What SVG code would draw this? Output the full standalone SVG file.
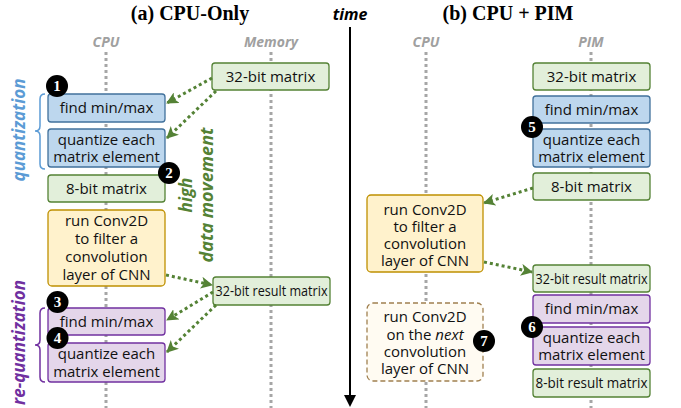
<svg xmlns="http://www.w3.org/2000/svg" width="681" height="408" viewBox="0 0 681 408">
<defs>
<style>
.title{font-family:"Liberation Serif",serif;font-weight:bold;font-size:20px;fill:#000}
.col{font-family:"Open Sans","Liberation Sans",sans-serif;font-weight:bold;font-style:italic;font-size:14px;fill:#a0a0a0}
.lane{stroke:#a6a6a6;stroke-width:3;stroke-dasharray:3 3;fill:none}
.bx{font-family:"Open Sans","Liberation Sans",sans-serif;font-size:15px;fill:#111;text-anchor:middle}
.blue{fill:#bdd7ee;stroke:#41719c;stroke-width:1.3}
.green{fill:#e2efda;stroke:#548235;stroke-width:1.3}
.yellow{fill:#fff2cc;stroke:#bf9000;stroke-width:1.3}
.purple{fill:#e4d6ea;stroke:#7030a0;stroke-width:1.3}
.dash{fill:#fffbf2;stroke:#a08050;stroke-width:1.3;stroke-dasharray:5 3}
.conn{stroke:#548235;stroke-width:3;stroke-dasharray:3 3;fill:none}
.badge circle{fill:#000}
.badge text{font-family:"Liberation Serif",serif;font-weight:bold;font-size:15px;fill:#fff;text-anchor:middle}
.lbl{font-family:"Open Sans","Liberation Sans",sans-serif;font-weight:bold;font-style:italic;font-size:17px;text-anchor:middle}
</style>
<marker id="ah" markerUnits="userSpaceOnUse" markerWidth="12" markerHeight="12" refX="11" refY="6" orient="auto">
<path d="M0,0 L12,6 L0,12 L3,6 z" fill="#548235"/>
</marker>
</defs>
<rect width="681" height="408" fill="#fff"/>

<!-- titles -->
<text class="title" x="190" y="20" text-anchor="middle">(a) CPU-Only</text>
<text class="title" x="508" y="20" text-anchor="middle">(b) CPU + PIM</text>
<text x="350" y="20" text-anchor="middle" style="font-family:'Open Sans','Liberation Sans',sans-serif;font-weight:bold;font-style:italic;font-size:16px">time</text>

<!-- column labels -->
<text class="col" x="106" y="47" text-anchor="middle">CPU</text>
<text class="col" x="271" y="47" text-anchor="middle">Memory</text>
<text class="col" x="426" y="47" text-anchor="middle">CPU</text>
<text class="col" x="591" y="47" text-anchor="middle">PIM</text>

<!-- lanes -->
<g id="lanes">
<line class="lane" x1="106" y1="52" x2="106" y2="408"/>
<line class="lane" x1="271" y1="52" x2="271" y2="408"/>
<line class="lane" x1="426" y1="52" x2="426" y2="408"/>
<line class="lane" x1="591" y1="52" x2="591" y2="408"/>
</g>

<!-- time arrow -->
<g id="time">
<line x1="350" y1="27" x2="350" y2="397" stroke="#000" stroke-width="2"/>
<polygon points="344,395 356,395 350,407" fill="#000"/>
</g>

<!-- side labels -->
<text class="lbl" transform="translate(25,130) rotate(-90)" fill="#5b9bd5">quantization</text>
<path d="M45,94 Q40,94 40,99 L40,126 Q40,131 35,131 Q40,131 40,136 L40,164 Q40,169 45,169" fill="none" stroke="#5b9bd5" stroke-width="1.5"/>
<text class="lbl" transform="translate(25,280) rotate(-90)" fill="#7030a0" style="text-anchor:end">re-quantization</text>
<path d="M45,308 Q40,308 40,313 L40,340 Q40,345 35,345 Q40,345 40,350 L40,377 Q40,382 45,382" fill="none" stroke="#7030a0" stroke-width="1.5"/>
<text class="lbl" transform="translate(192,195) rotate(-90)" fill="#548235">high</text>
<text class="lbl" transform="translate(213,195) rotate(-90)" fill="#548235" style="font-size:18px">data movement</text>

<!-- left nodes -->
<g id="a-min"><rect class="blue" x="48" y="94" width="117" height="28" rx="3"/><text class="bx" x="106.5" y="113">find min/max</text></g>
<g id="a-quant"><rect class="blue" x="48" y="129" width="117" height="38" rx="3"/><text class="bx" x="106.5" y="145">quantize each</text><text class="bx" x="106.5" y="162">matrix element</text></g>
<g id="a-8bit"><rect class="green" x="48" y="175" width="117" height="27" rx="3"/><text class="bx" x="106.5" y="194">8-bit matrix</text></g>
<g id="a-conv"><rect class="yellow" x="48" y="210" width="117" height="76" rx="4"/><text class="bx" x="106.5" y="226">run Conv2D</text><text class="bx" x="106.5" y="244">to filter a</text><text class="bx" x="106.5" y="262">convolution</text><text class="bx" x="106.5" y="280">layer of CNN</text></g>
<g id="a-rmin"><rect class="purple" x="48" y="308" width="117" height="27" rx="3"/><text class="bx" x="106.5" y="327">find min/max</text></g>
<g id="a-rquant"><rect class="purple" x="48" y="343" width="117" height="39" rx="3"/><text class="bx" x="106.5" y="359">quantize each</text><text class="bx" x="106.5" y="377">matrix element</text></g>
<g id="a-mem32"><rect class="green" x="212" y="63" width="117" height="27" rx="3"/><text class="bx" x="270.5" y="82">32-bit matrix</text></g>
<g id="a-mem32r"><rect class="green" x="213" y="277" width="117" height="28" rx="3"/><text class="bx" x="271.5" y="296" textLength="112" lengthAdjust="spacingAndGlyphs">32-bit result matrix</text></g>

<!-- right nodes -->
<g id="b-32"><rect class="green" x="533" y="63" width="117" height="27" rx="3"/><text class="bx" x="591.5" y="82">32-bit matrix</text></g>
<g id="b-min"><rect class="blue" x="533" y="96" width="117" height="27" rx="3"/><text class="bx" x="591.5" y="115">find min/max</text></g>
<g id="b-quant"><rect class="blue" x="533" y="129" width="117" height="38" rx="3"/><text class="bx" x="591.5" y="145">quantize each</text><text class="bx" x="591.5" y="162">matrix element</text></g>
<g id="b-8bit"><rect class="green" x="533" y="173" width="117" height="27" rx="3"/><text class="bx" x="591.5" y="192">8-bit matrix</text></g>
<g id="b-conv"><rect class="yellow" x="367" y="195" width="116" height="77" rx="4"/><text class="bx" x="425" y="215">run Conv2D</text><text class="bx" x="425" y="232">to filter a</text><text class="bx" x="425" y="249">convolution</text><text class="bx" x="425" y="266">layer of CNN</text></g>
<g id="b-32r"><rect class="green" x="533" y="265" width="117" height="27" rx="3"/><text class="bx" x="591.5" y="284" textLength="112" lengthAdjust="spacingAndGlyphs">32-bit result matrix</text></g>
<g id="b-rmin"><rect class="purple" x="533" y="295" width="117" height="28" rx="3"/><text class="bx" x="591.5" y="314">find min/max</text></g>
<g id="b-rquant"><rect class="purple" x="533" y="327" width="117" height="38" rx="3"/><text class="bx" x="591.5" y="343">quantize each</text><text class="bx" x="591.5" y="360">matrix element</text></g>
<g id="b-8r"><rect class="green" x="533" y="369" width="117" height="28" rx="3"/><text class="bx" x="591.5" y="388" textLength="112" lengthAdjust="spacingAndGlyphs">8-bit result matrix</text></g>
<g id="b-next"><rect class="dash" x="367" y="303" width="116" height="78" rx="6"/><text class="bx" x="425" y="322">run Conv2D</text><text class="bx" x="425" y="340">on the <tspan font-style="italic">next</tspan></text><text class="bx" x="425" y="357">convolution</text><text class="bx" x="425" y="374">layer of CNN</text></g>

<!-- connectors -->
<g id="connectors">
<path class="conn" d="M212,78 L167,103" marker-end="url(#ah)"/>
<path class="conn" d="M216,91 L167,138" marker-end="url(#ah)"/>
<path class="conn" d="M166,275 L212,285" marker-end="url(#ah)"/>
<path class="conn" d="M213,292 L167,320" marker-end="url(#ah)"/>
<path class="conn" d="M216,305 L167,352" marker-end="url(#ah)"/>
<path class="conn" d="M533,188 L484,203" marker-end="url(#ah)"/>
<path class="conn" d="M484,262 L532,272" marker-end="url(#ah)"/>
</g>

<!-- badges -->
<g class="badge" id="n1"><circle cx="57" cy="86" r="11"/><text x="57" y="91">1</text></g>
<g class="badge" id="n2"><circle cx="169" cy="173" r="11"/><text x="169" y="178">2</text></g>
<g class="badge" id="n3"><circle cx="57.5" cy="302" r="11"/><text x="57.5" y="307">3</text></g>
<g class="badge" id="n4"><circle cx="57.5" cy="338" r="11"/><text x="57.5" y="343">4</text></g>
<g class="badge" id="n5"><circle cx="532" cy="127" r="11"/><text x="532" y="132">5</text></g>
<g class="badge" id="n6"><circle cx="532" cy="327" r="11"/><text x="532" y="332">6</text></g>
<g class="badge" id="n7"><circle cx="484" cy="341" r="11"/><text x="484" y="346">7</text></g>
</svg>
